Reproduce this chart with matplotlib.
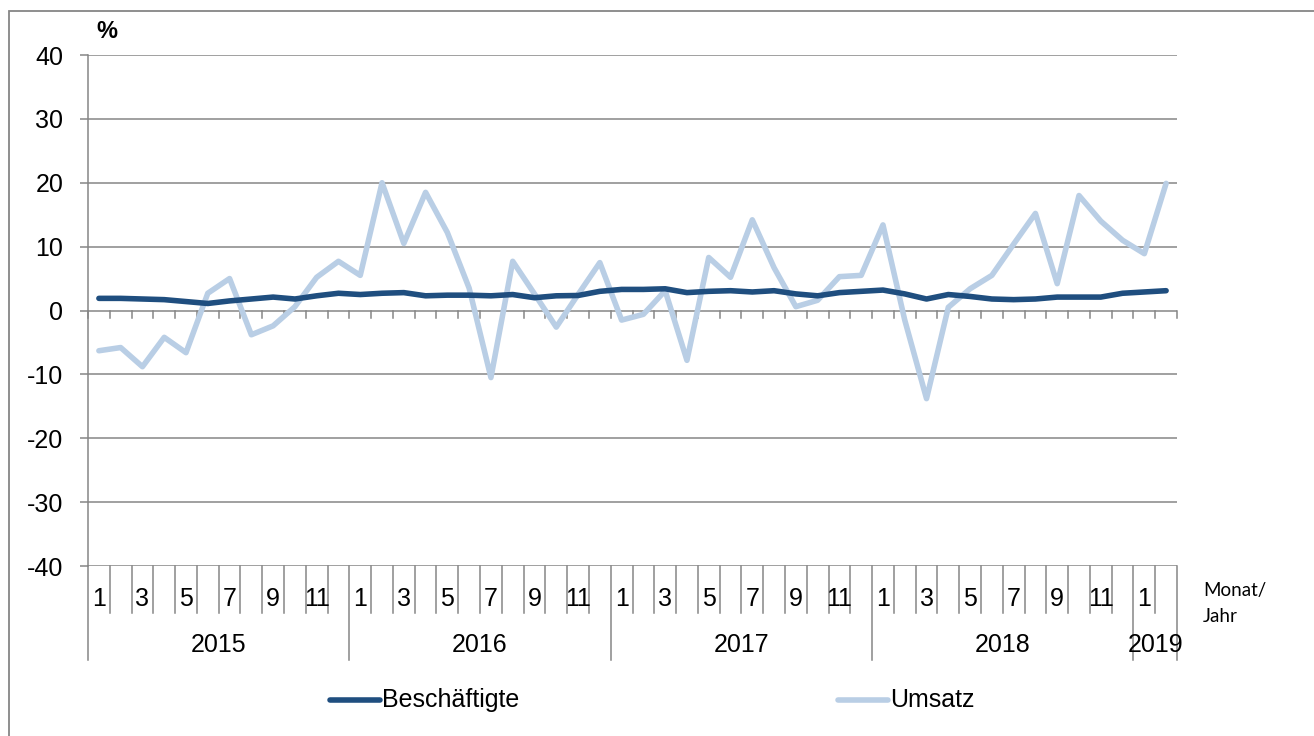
import numpy as np
import matplotlib.pyplot as plt
from matplotlib.lines import Line2D
from matplotlib.patches import Rectangle

# monthly change vs. previous year, Jan 2015 - Feb 2019 (%)
years = [2015, 2016, 2017, 2018, 2019]
months_per_year = [12, 12, 12, 12, 2]
series_names = ['Beschäftigte', 'Umsatz']

beschaeftigte = [1.9, 1.9, 1.8, 1.7, 1.4, 1.1, 1.5, 1.8, 2.1, 1.8,
                 2.3, 2.7, 2.5, 2.7, 2.8, 2.3, 2.4, 2.4, 2.3, 2.5,
                 2.0, 2.3, 2.35, 3.0, 3.3, 3.3, 3.4, 2.8, 3.0, 3.1,
                 2.9, 3.1, 2.6, 2.3, 2.8, 3.0, 3.2, 2.6, 1.8, 2.5,
                 2.2, 1.8, 1.7, 1.8, 2.1, 2.1, 2.1, 2.7, 2.9, 3.1]
umsatz = [-6.3, -5.8, -8.8, -4.2, -6.6, 2.7, 5.0, -3.8, -2.4, 0.6,
          5.2, 7.7, 5.5, 20.0, 10.5, 18.5, 12.2, 3.5, -10.5, 7.7,
          2.6, -2.6, 2.5, 7.5, -1.5, -0.6, 3.1, -7.8, 8.3, 5.2,
          14.2, 6.7, 0.6, 1.6, 5.3, 5.5, 13.4, -1.5, -13.8, 0.5,
          3.4, 5.5, 10.4, 15.2, 4.2, 18.0, 14.0, 11.0, 8.9, 19.9]

yticks = [-40, -30, -20, -10, 0, 10, 20, 30, 40]

dark = '#1F4E7F'
light = '#B9CEE5'
grid = '#868686'
fs = 18

plt.rcParams['font.family'] = ['Liberation Sans', 'DejaVu Sans']

W, H = 1314, 736
fig = plt.figure(figsize=(W / 100, H / 100), dpi=100)
ax = fig.add_axes([88 / W, (H - 566) / H, (1177 - 88) / W, (566 - 55) / H])

n = len(umsatz)
x = np.arange(n) + 0.5
ax.plot(x, beschaeftigte, color=dark, lw=4, solid_capstyle='round', zorder=4)
ax.plot(x, umsatz, color=light, lw=4, solid_capstyle='round', zorder=3)

ax.set_xlim(0, n)
ax.set_ylim(-40, 40)
ax.set_yticks(yticks)
ax.set_yticklabels([str(v) for v in yticks], fontsize=fs)
ax.tick_params(axis='y', length=5.8, width=1.1, color=grid, pad=12)
ax.set_xticks([])
for v in yticks:
    ax.axhline(v, color=grid, lw=1.1, zorder=1)
for s in ['top', 'right', 'bottom']:
    ax.spines[s].set_visible(False)
ax.spines['left'].set_color(grid)
ax.spines['left'].set_linewidth(1.1)

# small tick marks on the zero line
for k in range(n + 1):
    ax.plot([k, k], [0, -1.1], color=grid, lw=1.1, zorder=1, clip_on=False)

# category separators and labels below the plot
trans = ax.get_xaxis_transform()
year_bounds = np.concatenate([[0], np.cumsum(months_per_year)])
for k in range(n + 1):
    low = -0.184 if k in year_bounds else -0.092
    ax.plot([k, k], [0, low], color=grid, lw=1.1, transform=trans, clip_on=False)

i = 0
for yr, cnt in zip(years, months_per_year):
    for m in range(1, cnt + 1):
        if m % 2 == 1:
            ax.text(i + m - 0.5, -0.065, str(m), transform=trans,
                    ha='center', va='center', fontsize=fs)
    ax.text(i + cnt / 2, -0.155, str(yr), transform=trans,
            ha='center', va='center', fontsize=fs)
    i += cnt

fig.text(1203 / W, 1 - 596 / H, 'Monat/', fontsize=13.5, family='Lato',
         ha='left', va='baseline')
fig.text(1203 / W, 1 - 622 / H, 'Jahr', fontsize=13.5, family='Lato',
         ha='left', va='baseline')
fig.text(107 / W, 1 - 32 / H, '%', fontsize=17, fontweight='bold',
         ha='center', va='center')

# legend
for name, col, x0 in zip(series_names, [dark, light], [330, 838]):
    fig.add_artist(Line2D([x0 / W, (x0 + 50) / W], [1 - 700 / H, 1 - 700 / H],
                          color=col, lw=4, solid_capstyle='round'))
    fig.text((x0 + 52) / W, 1 - 700 / H, name, fontsize=fs,
             ha='left', va='center')

# outer frame
fig.add_artist(Rectangle((8.5 / W, -0.1), 1.2, 1 - 11 / H + 0.1,
                         transform=fig.transFigure, fill=False,
                         edgecolor=grid, lw=1.3))

fig.savefig('out.png', dpi=100)
